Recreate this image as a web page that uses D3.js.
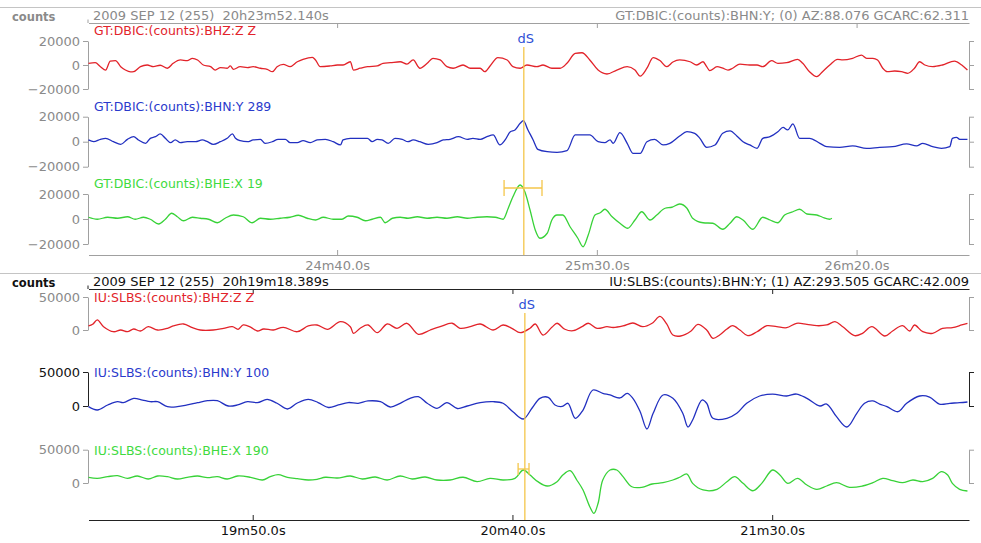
<!DOCTYPE html>
<html>
<head>
<meta charset="utf-8">
<script src="https://cdn.jsdelivr.net/npm/d3@7"></script>
<style>
  body { margin: 0; background: #fff; }
  svg text { font-family: "DejaVu Sans", sans-serif; }
</style>
</head>
<body>
<script>
const w = 981;
const h = 543;

// seconds past the hour at the left edge of each panel
const topStart = 23 * 60 + 52.140;
const botStart = 19 * 60 + 18.389;
const span = 169.5;

const topTicks = [24 * 60 + 40, 25 * 60 + 30, 26 * 60 + 20];
const botTicks = [19 * 60 + 50, 20 * 60 + 40, 21 * 60 + 30];

const topHeader = "2009 SEP 12 (255)  20h23m52.140s";
const topInfo = "GT:DBIC:(counts):BHN:Y; (0) AZ:88.076 GCARC:62.311";
const botHeader = "2009 SEP 12 (255)  20h19m18.389s";
const botInfo = "IU:SLBS:(counts):BHN:Y; (1) AZ:293.505 GCARC:42.009";

const topNames = ["GT:DBIC:(counts):BHZ:Z Z", "GT:DBIC:(counts):BHN:Y 289", "GT:DBIC:(counts):BHE:X 19"];
const botNames = ["IU:SLBS:(counts):BHZ:Z Z", "IU:SLBS:(counts):BHN:Y 100", "IU:SLBS:(counts):BHE:X 190"];

const topAmpTicks = [-20000, 0, 20000];
const botAmpTicks = [0, 50000];

// [seconds after panel start, counts]
const topBHZ = [[0,1400],[1.3,1900],[2.3,-1400],[3.3,-4200],[4.2,3300],[5.2,3600],[6.2,-1400],[7.1,-4200],[8.1,-5800],[8.7,-5600],[10.0,-1400],[11.3,0],[12.5,-1400],[13.8,-200],[15.2,-2700],[16.3,1400],[17.7,4200],[19.0,3600],[20.0,5600],[21.0,4200],[22.1,0],[23.5,-1400],[24.4,-4200],[25.4,-2200],[26.7,-2700],[27.3,-800],[27.9,-3600],[29.2,-1400],[30.6,-2200],[31.7,-1400],[33.1,-2700],[34.4,-3600],[35.4,-5600],[36.3,-1400],[37.5,600],[38.8,-1400],[40.2,2700],[41.3,4700],[43.1,6400],[43.7,4200],[44.6,-1400],[46.5,-800],[47.9,0],[49.0,0],[50.4,2700],[51.0,-4200],[52.3,-2700],[53.7,-1400],[55.6,-800],[56.7,1400],[58.1,1900],[60.0,2700],[61.3,800],[62.5,4200],[63.8,-2700],[65.2,1400],[66.3,5600],[67.7,4200],[69.0,-1400],[70.2,-2700],[72.1,0],[73.5,-2700],[75.4,-2700],[76.3,-5600],[77.3,-800],[78.8,6100],[80.6,4200],[81.7,-1400],[83.1,-2700],[84.4,0],[86.3,-1400],[87.5,0],[89.2,-2700],[90.8,-2700],[92.1,1400],[93.7,9700],[95.0,10200],[96.5,4200],[98.1,-4200],[99.8,-7500],[101.7,-4200],[103.7,-1400],[105.2,-4200],[106.2,-9200],[107.5,-2700],[108.7,6200],[110.0,3700],[111.3,-1400],[112.5,2500],[113.8,4200],[115.8,2700],[117.1,0],[118.3,2700],[119.0,-1400],[119.6,-4700],[121.0,-1400],[122.1,-2700],[123.1,-4200],[124.0,-2700],[125.4,800],[127.3,0],[128.7,0],[129.8,-1400],[131.5,3600],[132.7,1400],[134.4,1900],[136.5,4700],[137.5,1400],[138.8,-5600],[140.2,-9700],[141.3,-5600],[142.7,0],[144.2,4700],[145.2,4200],[147.1,5600],[148.8,8300],[149.8,5600],[151.0,5600],[151.9,4200],[152.9,-2700],[153.8,-5600],[155.2,-5000],[156.5,-5600],[157.7,-6900],[159.0,-2700],[160.0,2700],[161.0,0],[162.5,-1400],[164.4,0],[166.7,3300],[168.1,0],[169.2,-4200]];

const topBHN = [[0,1400],[1.0,0],[2.3,1900],[3.3,2700],[4.8,0],[6.2,-2100],[7.5,1900],[8.7,4000],[9.6,1400],[11.0,-1300],[11.9,2700],[12.9,4000],[13.8,6200],[14.8,2700],[15.8,-800],[16.7,1400],[17.7,-800],[19.0,0],[20.6,0],[21.9,1400],[22.9,0],[24.0,-2100],[25.4,0],[26.7,2700],[27.7,6200],[28.3,2700],[29.2,800],[30.6,0],[31.7,1400],[33.1,1900],[34.0,-1300],[35.4,0],[36.5,1900],[37.9,1900],[38.8,-800],[40.2,-800],[41.3,800],[42.7,-800],[44.0,1400],[45.6,1900],[47.1,0],[48.5,-2600],[49.0,1400],[50.4,2700],[52.3,2700],[53.7,2700],[54.6,0],[55.6,1900],[56.5,1400],[57.7,-1300],[59.0,2700],[60.4,1900],[61.5,0],[62.5,1400],[63.8,0],[65.4,-2100],[67.1,-800],[68.3,1400],[69.6,1900],[71.2,4000],[72.9,1900],[74.0,2700],[75.4,1900],[76.7,4000],[77.9,5400],[79.2,-2600],[80.2,1400],[81.2,8000],[82.1,9400],[83.1,14700],[83.7,16800],[84.6,9400],[85.6,1400],[86.5,-6100],[88.3,-8000],[90.2,-8500],[92.1,-7200],[93.7,5400],[95.2,5400],[96.5,5400],[98.1,0],[99.4,-800],[100.4,1400],[101.0,-1300],[102.3,7200],[103.7,-1300],[104.8,-9300],[106.2,-9300],[107.5,0],[109.0,1900],[110.6,-2600],[111.9,-1300],[113.8,4600],[115.2,8000],[116.7,6700],[117.7,2700],[119.0,-4500],[120.6,-2600],[122.1,6700],[123.5,8600],[124.8,4600],[126.0,0],[127.3,-2600],[128.7,-5300],[129.8,2700],[131.2,4000],[132.7,8000],[133.7,11500],[134.6,9400],[135.6,14200],[136.9,2700],[138.8,2700],[140.8,-1300],[142.1,-4000],[144.6,-4500],[147.1,-3400],[149.8,-5300],[152.3,-4500],[154.8,-4000],[157.5,-1800],[159.4,-3400],[160.6,-1300],[162.5,-4000],[164.2,-5300],[165.8,-4000],[166.3,2700],[167.1,3500],[167.7,1900],[169.2,1900]];

const topBHE = [[0,1400],[1.7,-200],[3.7,1400],[5.6,600],[7.5,1800],[9.0,-200],[10.6,1400],[11.9,-200],[13.5,-4000],[14.8,-200],[16.0,4600],[17.1,1800],[18.3,-1400],[20.0,1400],[21.5,600],[23.1,-200],[24.8,-3000],[26.3,600],[27.9,3200],[29.8,1800],[31.5,-3000],[33.1,600],[35.0,-200],[36.9,600],[38.8,1400],[40.4,3000],[42.1,600],[43.7,-800],[45.2,1400],[47.1,-200],[48.8,-200],[50.0,2400],[51.7,1400],[53.3,-1400],[54.6,-200],[56.2,1400],[57.1,-3000],[58.5,600],[60.0,1400],[61.5,600],[63.3,1800],[65.2,600],[67.1,1400],[69.0,600],[71.0,1800],[72.9,600],[74.8,1400],[76.7,1800],[78.3,1400],[79.8,-200],[80.8,8600],[81.7,17800],[83.1,27200],[84.0,21800],[85.0,7200],[86.0,-8800],[86.9,-15400],[88.3,-11400],[89.2,-800],[90.2,3200],[91.3,3200],[92.7,-6200],[94.2,-15400],[95.2,-22200],[96.2,-12800],[97.5,3200],[98.5,5000],[99.4,7800],[100.8,1800],[102.3,-3400],[103.8,-7400],[105.2,-800],[106.5,5800],[108.1,-800],[109.4,3200],[111.0,8600],[112.3,9400],[113.8,12000],[115.2,8600],[116.3,600],[118.3,-3000],[120.2,-3400],[122.1,-8200],[123.5,-3400],[124.8,1800],[126.0,-800],[127.9,-8200],[129.8,1400],[131.2,-800],[132.7,-3000],[134.0,3200],[135.6,5800],[136.9,7800],[138.3,4000],[140.2,3200],[141.3,1400],[142.7,-200],[143.1,600]];

const botBHZ = [[0,6100],[0.8,8600],[1.7,15200],[2.9,5000],[4.8,-2600],[6.2,0],[7.5,-2600],[8.7,1500],[10.0,-1500],[11.5,5000],[13.3,0],[15.2,2600],[16.3,6100],[18.3,9100],[20.0,3500],[21.5,0],[24.0,0],[26.0,2600],[27.7,5000],[28.8,1100],[29.8,7600],[31.2,4500],[32.5,-1500],[33.7,1500],[35.6,0],[37.5,4100],[40.2,-2600],[42.3,6100],[44.0,7600],[46.0,1100],[48.5,12600],[50.4,5000],[51.0,-5000],[52.3,2600],[53.8,7600],[55.6,-4100],[57.5,9100],[59.4,2600],[61.3,10200],[63.5,-6500],[65.8,0],[67.7,5000],[70.0,10200],[71.5,2600],[73.5,5000],[75.4,9100],[77.9,0],[79.8,7600],[81.5,2600],[83.1,-4100],[85.0,2600],[86.0,9100],[87.5,-7600],[89.2,4100],[90.2,10200],[91.7,1100],[93.3,-1100],[95.0,5000],[96.2,10200],[97.9,2600],[99.8,5000],[101.0,3800],[102.9,6100],[104.8,10600],[106.7,5000],[108.5,10200],[110.0,20500],[111.3,9100],[112.5,-7600],[114.0,-9100],[116.0,-1500],[117.3,8600],[119.0,0],[120.2,-12600],[121.5,-7600],[122.9,1500],[124.0,6500],[125.4,0],[126.9,-8600],[128.7,-2600],[130.6,6500],[132.5,5000],[134.4,3500],[136.3,10200],[138.3,8600],[140.2,6500],[142.1,7600],[143.7,12600],[145.2,5000],[147.5,-8600],[149.0,-5000],[150.8,5000],[153.3,-9100],[154.8,-1500],[156.7,6500],[158.1,-1500],[159.0,7600],[160.6,-2600],[162.5,-5000],[164.4,2600],[166.3,3500],[168.1,7600],[169.2,10200]];

const botBHN = [[0,-1000],[1.7,-5900],[3.7,1500],[5.6,6300],[6.7,4900],[8.7,11300],[10.4,8800],[11.9,6300],[13.3,6300],[15.2,-1000],[17.1,-1000],[19.0,1500],[21.0,4900],[22.9,7800],[24.8,7800],[26.9,0],[28.7,1500],[30.6,6300],[32.5,4900],[34.4,9600],[36.3,4000],[38.3,-4400],[40.2,4400],[42.3,9800],[44.2,5100],[46.2,-2200],[48.1,1500],[50.0,5100],[51.9,4000],[53.8,7400],[56.2,6300],[58.1,-1500],[60.0,4000],[61.9,11300],[63.5,13700],[65.2,4000],[67.1,-3400],[69.0,4900],[71.0,-3700],[72.9,0],[75.4,4900],[77.9,6300],[79.8,4000],[81.7,-8400],[83.7,-19100],[85.4,-2900],[86.9,11300],[88.5,12800],[89.8,1500],[91.2,-700],[92.3,4000],[93.7,-18100],[95.2,-5900],[97.1,23500],[99.0,18700],[100.4,16200],[102.3,11800],[103.7,18700],[104.8,11300],[106.2,-8400],[107.5,-33800],[108.7,-10700],[110.6,16200],[112.5,11300],[114.4,-10700],[115.4,-30900],[116.3,-20600],[118.1,8800],[119.0,4000],[120.2,-18100],[122.9,-18100],[124.8,-10700],[126.7,4000],[129.2,14700],[131.7,17600],[134.4,14700],[136.3,17600],[138.3,11300],[140.8,0],[142.1,2900],[144.0,-15700],[146.0,-30900],[147.9,-10700],[149.4,4000],[151.0,7400],[152.3,2900],[153.7,-1000],[155.8,-8400],[157.5,4000],[160.0,14700],[161.9,13200],[163.8,2900],[165.8,4000],[167.7,4900],[169.2,5900]];

const botBHE = [[0,8600],[1.7,7000],[3.7,9500],[5.6,11000],[7.5,7000],[9.4,10500],[11.5,6000],[13.3,10500],[15.2,9500],[17.1,6000],[19.0,8600],[21.0,10500],[22.9,8000],[24.8,9500],[26.7,6000],[28.7,10500],[31.2,8600],[33.5,4500],[35.0,9500],[36.5,12500],[38.3,8600],[40.2,6500],[42.3,4500],[44.0,5600],[45.6,8600],[47.9,7500],[50.4,10500],[52.7,6000],[55.2,9000],[57.5,4500],[60.0,10500],[62.3,6000],[64.8,9000],[67.1,4500],[69.6,4500],[72.1,8600],[74.8,2000],[77.3,7000],[79.8,4500],[82.1,7000],[83.7,19500],[85.0,12000],[86.5,2000],[88.3,-4500],[90.2,2000],[91.3,12000],[92.7,18500],[94.0,4500],[95.2,-10500],[96.5,-35600],[97.3,-45500],[98.1,-30500],[99.0,4500],[100.4,19500],[101.7,19500],[102.9,9500],[104.6,-5600],[106.5,-6500],[108.5,-1500],[110.6,500],[112.5,4500],[113.8,8600],[115.2,13500],[116.3,-500],[118.3,-10500],[121.0,-9500],[122.9,2000],[124.4,9500],[126.0,-500],[127.9,-11600],[129.6,-500],[131.7,19500],[133.1,12000],[134.6,-500],[136.5,7000],[138.3,-3000],[140.2,-9500],[142.1,-4500],[144.0,500],[146.5,-6500],[149.0,-4500],[151.0,500],[152.9,7000],[154.8,3500],[156.7,500],[158.7,4500],[160.6,2000],[162.5,7000],[164.2,17000],[165.4,12000],[166.3,-500],[167.7,-9500],[169.2,-12000]];

// dS picks, seconds after panel start, with uncertainty window
const topPick = { label: "dS", t: 83.8, lo: 80.0, hi: 87.3 };
const botPick = { label: "dS", t: 84.0, lo: 82.7, hi: 84.8 };

const traceColors = ["#e2232a", "#2230c0", "#38d238"];
const nameColors = ["#e2232a", "#2a3acc", "#40da40"];
const pickColor = "#f4c64a";

const svg = d3.select("body")
  .append("svg")
  .attr("width", w)
  .attr("height", h);

const fmtTime = s => `${Math.floor(s / 60) % 60}m${(s % 60).toFixed(1)}s`;
const fmtAmp = d3.format("d");

function drawPanel(p) {
  const x = d3.scaleLinear()
    .domain([p.start, p.start + span])
    .range([88.5, 969]);

  // frame line + header
  svg.append("line")
    .attr("x1", 0).attr("x2", w)
    .attr("y1", p.top).attr("y2", p.top)
    .attr("stroke", "#c4c4c4");

  svg.append("text")
    .attr("x", 12).attr("y", p.top + 13.5)
    .attr("font-size", 11.5).attr("font-weight", "bold")
    .attr("fill", p.ink)
    .text("counts");

  svg.append("text")
    .attr("x", 93).attr("y", p.top + 12.5)
    .attr("font-size", 13)
    .attr("fill", p.ink)
    .style("white-space", "pre")
    .text(p.header);

  svg.append("text")
    .attr("x", 969).attr("y", p.top + 12.5)
    .attr("font-size", 13)
    .attr("text-anchor", "end")
    .attr("fill", p.ink)
    .text(p.info);

  // header time axis (ticks down, no labels)
  const hdr = svg.append("g")
    .attr("transform", `translate(0, ${p.top + 15.5})`)
    .call(d3.axisBottom(x).tickValues(p.ticks).tickSize(5).tickSizeOuter(0).tickFormat(""));
  hdr.selectAll("path, line").attr("stroke", p.line);
  svg.append("line")
    .attr("x1", 88).attr("x2", 88)
    .attr("y1", p.top + 12).attr("y2", p.top + 15.5)
    .attr("stroke", p.line);

  // traces
  p.rows.forEach((r, i) => {
    const y = d3.scaleLinear().domain(r.domain).range(r.range);

    const ax = svg.append("g")
      .attr("transform", "translate(88, 0)")
      .call(d3.axisLeft(y).tickValues(p.ampTicks).tickSize(5).tickPadding(3).tickSizeOuter(0).tickFormat(fmtAmp));
    ax.selectAll("path, line").attr("stroke", r.axis);
    ax.selectAll("text").attr("font-size", 13).attr("fill", r.axisText)
      .attr("font-family", "DejaVu Sans, sans-serif");

    const br = svg.append("g")
      .attr("transform", "translate(969, 0)")
      .call(d3.axisRight(y).tickValues(p.ampTicks).tickSize(5).tickSizeOuter(0).tickFormat(""));
    br.selectAll("path, line").attr("stroke", r.axis);

    svg.append("text")
      .attr("x", 94).attr("y", y(p.ampTicks[p.ampTicks.length - 1]) + p.nameDy)
      .attr("font-size", 12.5)
      .attr("fill", nameColors[i])
      .text(p.names[i]);

    const line = d3.line()
      .x(d => x(p.start + d[0]))
      .y(d => y(d[1]))
      .curve(p.curve);

    svg.append("path")
      .datum(p.data[i])
      .attr("fill", "none")
      .attr("stroke", traceColors[i])
      .attr("stroke-width", 1.3)
      .attr("stroke-linejoin", "round")
      .attr("d", line);
  });

  // pick marker
  const px = x(p.start + p.pick.t);
  svg.append("line")
    .attr("x1", px).attr("x2", px)
    .attr("y1", p.pickTop).attr("y2", p.axisY)
    .attr("stroke", pickColor).attr("stroke-width", 1.3);
  svg.append("text")
    .attr("x", px + 2).attr("y", p.pickTop - 4)
    .attr("font-size", 13).attr("text-anchor", "middle")
    .attr("fill", "#2f4fd6")
    .text(p.pick.label);

  const x0 = x(p.start + p.pick.lo);
  const x1 = x(p.start + p.pick.hi);
  const eb = svg.append("g").attr("stroke", pickColor).attr("stroke-width", 1.3);
  eb.append("line").attr("x1", x0).attr("x2", x1).attr("y1", p.errY).attr("y2", p.errY);
  [x0, x1].forEach(xx => eb.append("line")
    .attr("x1", xx).attr("x2", xx)
    .attr("y1", p.errY - p.errH).attr("y2", p.errY + p.errH));

  // bottom time axis (ticks up, labels below)
  const bx = svg.append("g")
    .attr("transform", `translate(0, ${p.axisY})`)
    .call(d3.axisBottom(x).tickValues(p.ticks).tickSize(-5).tickPadding(6).tickSizeOuter(0).tickFormat(fmtTime));
  bx.selectAll("path, line").attr("stroke", p.line);
  bx.selectAll("text").attr("font-size", 13).attr("fill", p.ink)
    .attr("font-family", "DejaVu Sans, sans-serif");
}

drawPanel({
  start: topStart, ticks: topTicks, header: topHeader, info: topInfo,
  names: topNames, ampTicks: topAmpTicks, data: [topBHZ, topBHN, topBHE],
  pick: topPick, top: 7.5, axisY: 255, pickTop: 47, errY: 188, errH: 8,
  ink: "#8a8a8a", line: "#a0a0a0", nameDy: -6, curve: d3.curveMonotoneX,
  rows: [
    { domain: [-20000, 20000], range: [89, 41], axis: "#a0a0a0", axisText: "#8a8a8a" },
    { domain: [-20000, 20000], range: [166.7, 116.7], axis: "#a0a0a0", axisText: "#8a8a8a" },
    { domain: [-20000, 20000], range: [244, 194], axis: "#a0a0a0", axisText: "#8a8a8a" }
  ]
});

drawPanel({
  start: botStart, ticks: botTicks, header: botHeader, info: botInfo,
  names: botNames, ampTicks: botAmpTicks, data: [botBHZ, botBHN, botBHE],
  pick: botPick, top: 273.5, axisY: 520, pickTop: 313, errY: 469, errH: 6,
  ink: "#111", line: "#222", nameDy: 5, curve: d3.curveCatmullRom,
  rows: [
    { domain: [0, 50000], range: [330, 297], axis: "#a0a0a0", axisText: "#8a8a8a" },
    { domain: [0, 50000], range: [406, 372], axis: "#222", axisText: "#111" },
    { domain: [0, 50000], range: [483, 449.7], axis: "#a0a0a0", axisText: "#8a8a8a" }
  ]
});
</script>
</body>
</html>
